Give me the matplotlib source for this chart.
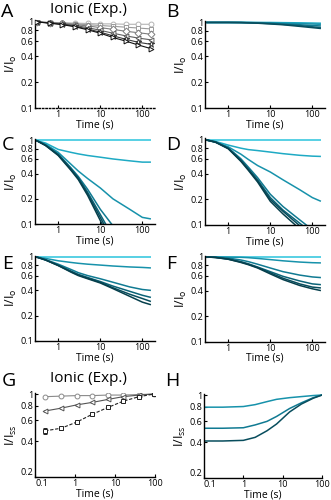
import numpy as np
import matplotlib
matplotlib.use("Agg")
import matplotlib.pyplot as plt

plt.rcParams['font.family'] = ['Open Sans', 'DejaVu Sans']

nan = np.nan
W, H = 331, 500

# ---------------- data ----------------
t_A = [0.3125, 0.625, 1.25, 2.5, 5, 10, 20, 40, 80, 160]
A_circ = [1, 0.99, 0.98, 0.97, 0.96, 0.95, 0.95, 0.94, 0.94, 0.94]
A_sq = [1, 0.98, 0.97, 0.95, 0.93, 0.91, 0.89, 0.87, 0.85, 0.83]
A_dia = [1, 0.98, 0.96, 0.93, 0.90, 0.86, 0.82, 0.78, 0.75, 0.72]
A_ltri = [1, 0.98, 0.95, 0.91, 0.86, 0.80, 0.74, 0.69, 0.65, 0.62]
A_star = [1, 0.97, 0.94, 0.89, 0.83, 0.76, 0.69, 0.63, 0.58, 0.55]
A_rtri = [1, 0.97, 0.93, 0.88, 0.81, 0.74, 0.66, 0.60, 0.54, 0.49]

t_sim = [0.3, 0.5, 1, 2, 3, 5, 10, 20, 50, 100, 160]

B_lines = [
    [1, 1, 1, 1, 1, 1, 1, 0.995, 0.99, 0.985, 0.98],
    [1, 1, 1, 1, 1, 0.995, 0.99, 0.98, 0.97, 0.96, 0.95],
    [1, 1, 1, 1, 0.995, 0.99, 0.98, 0.96, 0.94, 0.92, 0.91],
    [1, 1, 1, 0.998, 0.99, 0.985, 0.97, 0.95, 0.92, 0.89, 0.87],
    [1, 1, 1, 0.995, 0.99, 0.98, 0.96, 0.94, 0.90, 0.87, 0.85],
]
C_lines = [
    [1, 1, 1, 1, 1, 1, 1, 1, 1, 1, 1],
    [1, 0.93, 0.78, 0.72, 0.69, 0.66, 0.63, 0.60, 0.57, 0.55, 0.55],
    [1, 0.90, 0.72, 0.52, 0.43, 0.35, 0.27, 0.20, 0.15, 0.12, 0.115],
    [1, 0.88, 0.69, 0.47, 0.37, 0.26, 0.15, 0.095, nan, nan, nan],
    [1, 0.88, 0.68, 0.46, 0.36, 0.24, 0.13, 0.07, nan, nan, nan],
    [1, 0.87, 0.67, 0.45, 0.35, 0.23, 0.12, 0.062, nan, nan, nan],
    [1, 0.87, 0.66, 0.44, 0.34, 0.22, 0.11, 0.055, nan, nan, nan],
]
D_lines = [
    [1, 1, 1, 1, 1, 1, 1, 1, 1, 1, 1],
    [1, 0.96, 0.87, 0.80, 0.77, 0.75, 0.72, 0.69, 0.66, 0.645, 0.64],
    [1, 0.94, 0.83, 0.68, 0.59, 0.50, 0.42, 0.34, 0.26, 0.21, 0.19],
    [1, 0.95, 0.81, 0.60, 0.48, 0.36, 0.23, 0.165, 0.115, 0.088, nan],
    [1, 0.95, 0.80, 0.58, 0.46, 0.34, 0.21, 0.15, 0.105, 0.08, nan],
    [1, 0.94, 0.79, 0.57, 0.45, 0.33, 0.20, 0.145, 0.098, 0.07, nan],
    [1, 0.94, 0.79, 0.56, 0.44, 0.32, 0.19, 0.135, 0.09, nan, nan],
]
E_lines = [
    [1, 1, 1, 1, 1, 1, 1, 1, 1, 1, 1],
    [1, 0.96, 0.90, 0.86, 0.84, 0.82, 0.80, 0.78, 0.76, 0.75, 0.74],
    [1, 0.93, 0.82, 0.71, 0.65, 0.60, 0.55, 0.50, 0.44, 0.41, 0.40],
    [1, 0.92, 0.80, 0.68, 0.62, 0.57, 0.51, 0.45, 0.39, 0.35, 0.33],
    [1, 0.92, 0.79, 0.67, 0.61, 0.56, 0.50, 0.43, 0.36, 0.32, 0.295],
    [1, 0.92, 0.79, 0.66, 0.60, 0.55, 0.49, 0.42, 0.34, 0.29, 0.27],
]
F_lines = [
    [1, 1, 1, 1, 1, 1, 1, 1, 1, 1, 1],
    [1, 1, 0.995, 0.99, 0.98, 0.96, 0.93, 0.90, 0.87, 0.855, 0.85],
    [1, 0.99, 0.97, 0.92, 0.88, 0.82, 0.74, 0.67, 0.61, 0.58, 0.57],
    [1, 0.99, 0.95, 0.88, 0.83, 0.76, 0.67, 0.59, 0.52, 0.48, 0.47],
    [1, 0.985, 0.94, 0.87, 0.82, 0.75, 0.65, 0.56, 0.48, 0.44, 0.43],
    [1, 0.985, 0.94, 0.86, 0.81, 0.74, 0.63, 0.54, 0.46, 0.42, 0.40],
]

t_G = [0.18, 0.45, 1.1, 2.7, 6.6, 16, 40, 95]
G_circ = [0.95, 0.96, 0.97, 0.97, 0.98, 0.98, 0.99, 1.0]
G_tri = [0.72, 0.76, 0.81, 0.85, 0.90, 0.95, 0.98, 1.0]
G_sq = [0.49, 0.515, 0.58, 0.675, 0.77, 0.87, 0.95, 1.0]
G_sq_err = [0.03, 0.015, 0.015, 0.012, 0.01, 0.01, 0.008, 0.005]
G_tri_err = [0.012, 0.01, 0.01, 0.01, 0.008, 0.008, 0.006, 0.005]

t_H = [0.1, 0.3, 1, 2, 4, 7, 15, 30, 60, 100]
H_lines = [
    [0.79, 0.79, 0.80, 0.83, 0.88, 0.92, 0.95, 0.97, 0.99, 1.0],
    [0.525, 0.525, 0.53, 0.56, 0.60, 0.66, 0.77, 0.86, 0.95, 1.0],
    [0.41, 0.41, 0.415, 0.44, 0.50, 0.57, 0.72, 0.84, 0.94, 1.0],
]

yt_main = [0.1, 0.2, 0.4, 0.6, 0.8, 1]
yl_main = ['0.1', '0.2', '0.4', '0.6', '0.8', '1']
xt_main = [1, 10, 100]
xl_main = ['1', '10', '100']
yt_ss = [0.2, 0.4, 0.6, 0.8, 1]
yl_ss = ['0.2', '0.4', '0.6', '0.8', '1']
xt_ss = [0.1, 1, 10, 100]
xl_ss = ['0.1', '1', '10', '100']

teal = ['#2ac3dc', '#1eaac4', '#1792ab', '#107a92', '#0b6377', '#084d5d', '#063f4c']
grays = ['#b4b4b4', '#9a9a9a', '#7e7e7e', '#5e5e5e', '#3a3a3a', '#111111']

fig = plt.figure(figsize=(W / 100, H / 100), dpi=100)


def make_ax(l, r, t, b):
    return fig.add_axes([l / W, 1 - b / H, (r - l) / W, (b - t) / H])


def style(ax, xlim, ylim, yt, yl, xt, xl, ylab, lift_first=False):
    ax.set_xscale('log')
    ax.set_yscale('log')
    ax.set_xlim(*xlim)
    ax.set_ylim(*ylim)
    ax.set_yticks(yt)
    ax.set_yticklabels(yl)
    ax.set_xticks(xt)
    ax.set_xticklabels(xl)
    ax.minorticks_off()
    for s in ['top', 'right']:
        ax.spines[s].set_visible(False)
    for s in ['left', 'bottom']:
        ax.spines[s].set_linewidth(1.0)
    ax.tick_params(labelsize=6.5, length=2, width=0.8, direction='in', pad=1.5)
    ax.set_xlabel('Time (s)', fontsize=7.5, labelpad=0)
    ax.set_ylabel(ylab, fontsize=9, labelpad=1)
    ax.patch.set_alpha(0)
    if lift_first:
        ax.get_yticklabels()[0].set_va('bottom')
        ax.get_xticklabels()[0].set_ha('left')


lab_o = r'$\mathregular{I/I_o}$'
lab_ss = r'$\mathregular{I/I_{ss}}$'
xl_lim = (0.28, 200)
yl_lim = (0.1, 1.04)

# A
axA = make_ax(35, 155, 20.5, 108)
mk = ['o', 's', 'D', '<', '*', '>']
sers = [A_circ, A_sq, A_dia, A_ltri, A_star, A_rtri]
for i, (m, s) in enumerate(zip(mk, sers)):
    axA.plot(t_A, s, color=grays[i], lw=0.8, marker=m, ms=3.5 if m != '*' else 4.5,
             mfc='white', mec=grays[i], mew=0.7, zorder=3 + i)
style(axA, xl_lim, yl_lim, yt_main, yl_main, xt_main, xl_main, lab_o)
axA.spines['bottom'].set_linestyle((0, (1, 1.5)))

# B-F
panels = [
    ('B', (205, 325, 21, 108), B_lines, [teal[1], teal[2], teal[3], teal[4], teal[5]]),
    ('C', (35, 155, 139, 224), C_lines, teal),
    ('D', (205, 325, 138.5, 225), D_lines, teal),
    ('E', (35, 155, 255.5, 341), E_lines, teal[:1] + teal[2:]),
    ('F', (205, 325, 255.5, 341.5), F_lines, teal[:1] + teal[2:]),
]
for name, box, lines, cols in panels:
    ax = make_ax(*box)
    for i, s in enumerate(lines):
        ax.plot(t_sim, s, color=cols[i], lw=1.1, solid_capstyle='butt')
    style(ax, xl_lim, yl_lim, yt_main, yl_main, xt_main, xl_main, lab_o)

# G
axG = make_ax(35, 155, 392.5, 477)
axG.errorbar(t_G, G_circ, color='#8a8a8a', lw=0.8, marker='o', ms=3.5, mfc='white',
             mec='#8a8a8a', mew=0.7)
axG.errorbar(t_G, G_tri, yerr=G_tri_err, color='#555555', lw=0.8, marker='<', ms=3.5,
             mfc='white', mec='#555555', mew=0.7, elinewidth=0.6, capsize=1)
axG.errorbar(t_G, G_sq, yerr=G_sq_err, color='#222222', lw=0.8, ls='--', marker='s',
             ms=3.2, mfc='white', mec='#222222', mew=0.7, elinewidth=0.6, capsize=1.2,
             dashes=(3, 1.5))
style(axG, (0.1, 100), (0.2, 1.03), yt_ss, yl_ss, xt_ss, xl_ss, lab_ss, lift_first=True)

# H
axH = make_ax(204, 322, 393.5, 478)
hcols = [teal[2], teal[3], teal[5]]
for i, s in enumerate(H_lines):
    axH.plot(t_H, s, color=hcols[i], lw=1.1)
style(axH, (0.1, 100), (0.2, 1.03), yt_ss, yl_ss, xt_ss, xl_ss, lab_ss, lift_first=True)

# panel letters and titles
letters = [('A', 1, 3), ('B', 166, 3), ('C', 2, 136), ('D', 166, 136),
           ('E', 2, 255), ('F', 166, 255), ('G', 2, 372), ('H', 165, 372)]
for lt, x, y in letters:
    fig.text(x / W, 1 - y / H, lt, fontsize=14, va='top', ha='left',
             family=['Open Sans', 'DejaVu Sans'])
for y in (2, 371):
    fig.text(88 / W, 1 - y / H, 'Ionic (Exp.)', fontsize=11, va='top', ha='center',
             family=['Open Sans', 'DejaVu Sans'])

fig.savefig('out.png', dpi=100)
